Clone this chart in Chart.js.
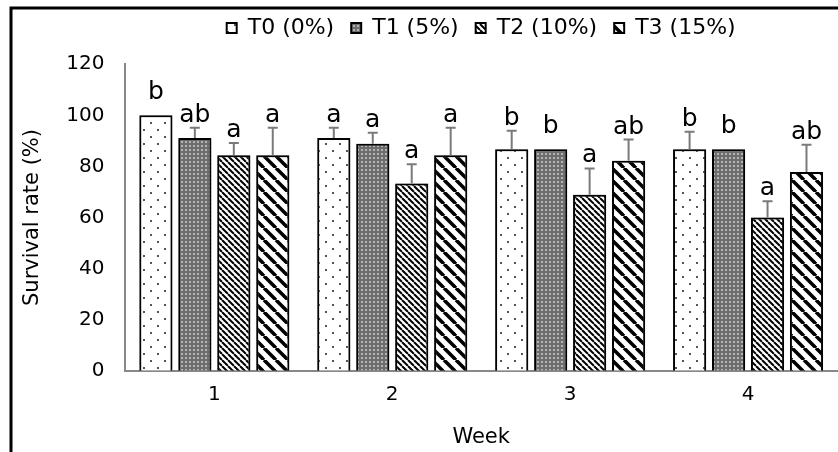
<!DOCTYPE html>
<html>
<head>
<meta charset="utf-8">
<script src="https://cdn.jsdelivr.net/npm/chart.js@4/dist/chart.umd.min.js"></script>
<style>
html,body{margin:0;padding:0;background:#fff;}
</style>
</head>
<body>
<canvas id="survChart" width="838" height="452"></canvas>
<script>
// data
let weeks=["1","2","3","4"];
let treatNames=["T0 (0%)","T1 (5%)","T2 (10%)","T3 (15%)"];
let t0=[100,91.1,86.7,86.7];
let t1=[91.1,88.9,86.7,86.7];
let t2=[84.4,73.3,68.9,60.0];
let t3=[84.4,84.4,82.2,77.8];
let t0err=[0,4.0,7.3,6.9];
let t1err=[4.0,4.3,0,0];
let t2err=[4.8,7.5,10.3,6.4];
let t3err=[10.7,10.7,8.3,10.7];
let t0sig=["b","a","b","b"];
let t1sig=["ab","a","b","b"];
let t2sig=["a","a","a","a"];
let t3sig=["a","a","ab","ab"];
let yTicks=[0,20,40,60,80,100,120];

const FONT="'DejaVu Sans', Verdana, sans-serif";

// fill patterns
function tile(size,draw){
	let c=document.createElement("canvas");
	c.width=size;c.height=size;
	let g=c.getContext("2d");
	draw(g,size);
	return g.createPattern(c,"repeat");
}
function dotsPat(){
	return tile(14,(g,s)=>{
		g.fillStyle="#fff";g.fillRect(0,0,s,s);
		g.fillStyle="#555";
		g.fillRect(3,3,2,2);
		g.fillRect(10,10,2,2);
	});
}
function meshPat(){
	return tile(4,(g,s)=>{
		g.fillStyle="#6e6e6e";g.fillRect(0,0,s,s);
		g.fillStyle="#b4b4b4";g.fillRect(1,1,2,2);
	});
}
function stripePat(s,w){
	return tile(s,(g)=>{
		g.fillStyle="#fff";g.fillRect(0,0,s,s);
		g.strokeStyle="#000";g.lineWidth=w;
		for(let k=-1;k<=1;k++){
			g.beginPath();
			g.moveTo(k*s,0);
			g.lineTo(k*s+s,s);
			g.stroke();
		}
	});
}

// frame lines on top and left
const framePlugin={
	id:"frame",
	afterDraw(chart){
		let c=chart.ctx;
		c.save();
		c.strokeStyle="#000";c.lineWidth=3;
		c.beginPath();
		c.moveTo(11,452);c.lineTo(11,8);c.lineTo(838,8);
		c.stroke();
		c.restore();
	}
};

// soft grey halo round the bars
const haloPlugin={
	id:"halo",
	beforeDatasetsDraw(chart){
		let c=chart.ctx;
		c.save();
		c.shadowColor="rgba(0,0,0,0.45)";
		c.shadowBlur=5;
	},
	afterDatasetsDraw(chart){
		chart.ctx.restore();
	}
};

// error bars (upper only) and letters
const errPlugin={
	id:"errbars",
	afterDatasetsDraw(chart){
		let c=chart.ctx;
		let ys=chart.scales.y;
		c.save();
		chart.data.datasets.forEach((ds,i)=>{
			let meta=chart.getDatasetMeta(i);
			meta.data.forEach((bar,j)=>{
				let v=ds.data[j],e=ds.err[j];
				let top=ys.getPixelForValue(v);
				let labY=top-16;
				if(e>0){
					let yt=ys.getPixelForValue(v+e);
					c.strokeStyle="#7a7a7a";c.lineWidth=2;
					c.beginPath();
					c.moveTo(bar.x,top);c.lineTo(bar.x,yt);
					c.moveTo(bar.x-5,yt);c.lineTo(bar.x+5,yt);
					c.stroke();
					labY=yt-6;
				}
				c.fillStyle="#000";
				c.font="25px "+FONT;
				c.textAlign="center";
				c.textBaseline="alphabetic";
				c.fillText(ds.sig[j],bar.x,labY);
			});
		});
		c.restore();
	}
};

let tickFont={family:FONT,size:20};
let titleFont={family:FONT,size:21};

new Chart(document.getElementById("survChart"),{
	type:"bar",
	data:{
		labels:weeks,
		datasets:[
			{label:treatNames[0],data:t0,err:t0err,sig:t0sig,backgroundColor:dotsPat(),borderColor:"#000",borderWidth:2},
			{label:treatNames[1],data:t1,err:t1err,sig:t1sig,backgroundColor:meshPat(),borderColor:"#000",borderWidth:2},
			{label:treatNames[2],data:t2,err:t2err,sig:t2sig,backgroundColor:stripePat(6,2),borderColor:"#000",borderWidth:2},
			{label:treatNames[3],data:t3,err:t3err,sig:t3sig,backgroundColor:stripePat(12,3.5),borderColor:"#000",borderWidth:2}
		]
	},
	options:{
		responsive:false,
		animation:false,
		layout:{padding:{left:20,right:1,top:0,bottom:2}},
		datasets:{bar:{categoryPercentage:0.876,barPercentage:0.85}},
		plugins:{
			legend:{
				fullSize:false,
				labels:{font:{family:FONT,size:22},color:"#000",boxWidth:10,boxHeight:10,padding:17}
			},
			// empty spacer between legend and plot
			subtitle:{display:true,text:"",weight:500,font:{size:1},padding:{top:0,bottom:14}},
			tooltip:{enabled:false}
		},
		scales:{
			x:{
				grid:{display:false,drawTicks:false},
				border:{color:"#888",width:2},
				ticks:{font:tickFont,color:"#000",padding:12},
				title:{display:true,text:"Week",font:titleFont,color:"#000",padding:{top:6,bottom:0}}
			},
			y:{
				min:0,max:120,
				afterBuildTicks:(s)=>{s.ticks=yTicks.map(v=>({value:v}));},
				grid:{display:false,drawTicks:false},
				border:{color:"#888",width:2},
				ticks:{font:tickFont,color:"#000",padding:21},
				title:{display:true,text:"Survival rate (%)",font:titleFont,color:"#000",padding:{top:0,bottom:0}}
			}
		}
	},
	plugins:[haloPlugin,errPlugin,framePlugin]
});
</script>
</body>
</html>
